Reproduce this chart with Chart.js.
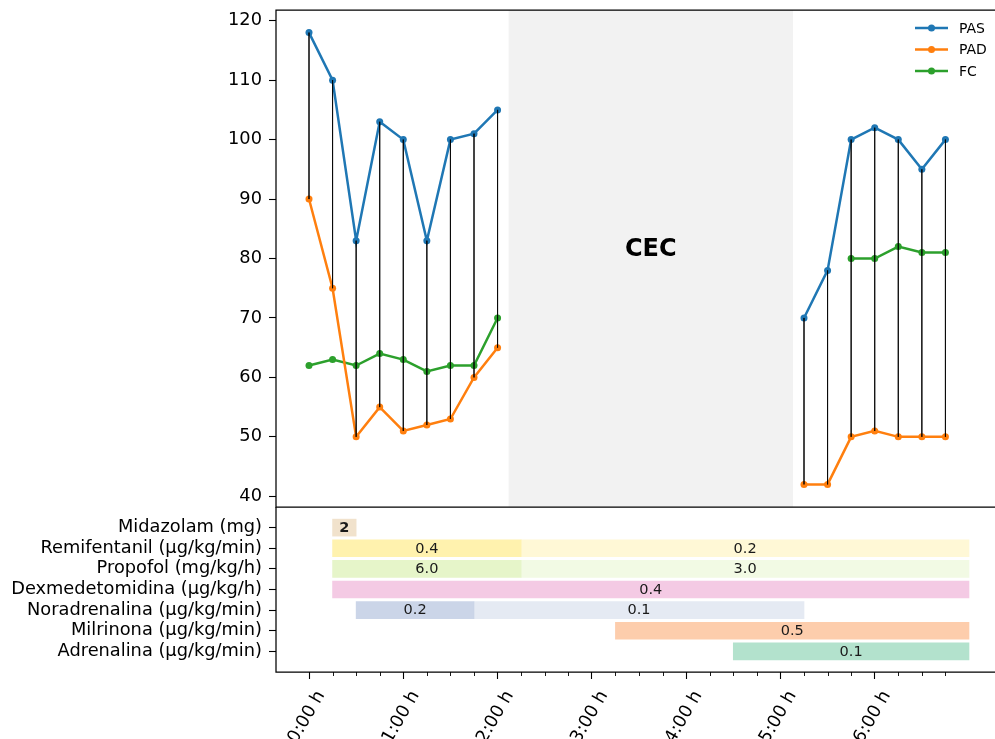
<!DOCTYPE html>
<html>
<head>
<meta charset="utf-8">
<script src="https://cdn.jsdelivr.net/npm/chart.js@4.4.1/dist/chart.umd.min.js"></script>
<style>
  html, body { margin: 0; padding: 0; background: #fff; overflow: hidden; }
  #wrap { position: relative; width: 1002px; height: 739px; }
  #wrap canvas { position: absolute; left: 0; top: 0; }
</style>
</head>
<body>
<div id="wrap">
  <canvas id="vitals" width="1002" height="739"></canvas>
  <canvas id="drugs" width="1002" height="739"></canvas>
</div>
<script>
// time in hours from start
const hours = [0, 0.25, 0.5, 0.75, 1, 1.25, 1.5, 1.75, 2, 5.25, 5.5, 5.75, 6, 6.25, 6.5, 6.75]
const pas = [118, 110, 83, 103, 100, 83, 100, 101, 105, 70, 78, 100, 102, 100, 95, 100]
const pad = [90, 75, 50, 55, 51, 52, 53, 60, 65, 42, 42, 50, 51, 50, 50, 50]
const fc = [62, 63, 62, 64, 63, 61, 62, 62, 70, null, null, 80, 80, 82, 81, 81]
const pressureTicks = [40, 50, 60, 70, 80, 90, 100, 110, 120]
const hourTicks = [0, 1, 2, 3, 4, 5, 6]

// bypass (CEC) window
const cecStart = 2.117
const cecEnd = 5.133
const cecLabel = 'CEC'

const drugs = [
  'Midazolam (mg)',
  'Remifentanil (µg/kg/min)',
  'Propofol (mg/kg/h)',
  'Dexmedetomidina (µg/kg/h)',
  'Noradrenalina (µg/kg/min)',
  'Milrinona (µg/kg/min)',
  'Adrenalina (µg/kg/min)'
]
const doseRow = [0, 1, 1, 2, 2, 3, 4, 4, 5, 6]
const doseStart = [0.25, 0.25, 2.25, 0.25, 2.25, 0.25, 0.5, 1.75, 3.25, 4.5]
const doseEnd = [0.5, 2.25, 7, 2.25, 7, 7, 1.75, 5.25, 7, 7]
const doseText = ['2', '0.4', '0.2', '6.0', '3.0', '0.4', '0.2', '0.1', '0.5', '0.1']

const drugColors = ['#f1e2cc', '#fff2ae', '#e6f5c9', '#f4cae4', '#cbd5e8', '#fdcdac', '#b3e2cd']
const boldRows = [0]

Chart.defaults.font.family = 'DejaVu Sans'
Chart.defaults.color = '#000'
Chart.defaults.animation = false

const xMin = -0.35
const xMax = 7.35
const axisWidth = 276
const tickFont = { size: 17.8 }

const minorTicks = []
for (let q = 0.25; q < 7; q += 0.25) if (q % 1) minorTicks.push(q)

// keep chart areas exactly where the layout padding puts them
const noPadX = (s) => { s.paddingLeft = 0; s.paddingRight = 0 }
const fixY = (s) => { s.width = axisWidth; s.paddingTop = 0; s.paddingBottom = 0 }

// hide the join across the bypass gap
const skipGap = (ctx) => (ctx.p1.parsed.x - ctx.p0.parsed.x > 1 ? 'transparent' : undefined)

const series = (label, values, color) => ({
  label,
  data: hours.map((h, i) => ({ x: h, y: values[i] })),
  borderColor: color,
  backgroundColor: color,
  borderWidth: 2.5,
  pointRadius: 3.5,
  pointHoverRadius: 3.5,
  pointBorderWidth: 0,
  segment: { borderColor: skipGap },
  order: 1
})

const whiskers = []
hours.forEach((h, i) => {
  if (pas[i] != null && pad[i] != null) {
    whiskers.push({ x: h, y: pas[i] }, { x: h, y: pad[i] }, { x: h, y: null })
  }
})

const cecPlugin = {
  id: 'cec',
  beforeDatasetsDraw(chart) {
    const { ctx, chartArea: ca, scales } = chart
    const x0 = scales.x.getPixelForValue(cecStart)
    const x1 = scales.x.getPixelForValue(cecEnd)
    ctx.save()
    ctx.fillStyle = '#f2f2f2'
    ctx.fillRect(x0, ca.top, x1 - x0, ca.bottom - ca.top)
    ctx.fillStyle = '#000'
    ctx.font = 'bold 24px "DejaVu Sans"'
    ctx.textAlign = 'center'
    ctx.textBaseline = 'middle'
    ctx.fillText(cecLabel, (x0 + x1) / 2, scales.y.getPixelForValue(81.5))
    ctx.restore()
  }
}

const framePlugin = {
  id: 'frame',
  afterDraw(chart, args, opts) {
    const { ctx, chartArea: ca } = chart
    ctx.save()
    ctx.strokeStyle = '#000'
    ctx.lineWidth = 1.25
    ctx.beginPath()
    if (opts.box) {
      ctx.rect(ca.left, ca.top, ca.right - ca.left, ca.bottom - ca.top)
    } else {
      ctx.moveTo(ca.left, ca.top)
      ctx.lineTo(ca.left, ca.bottom)
      ctx.lineTo(ca.right, ca.bottom)
    }
    ctx.stroke()
    ctx.restore()
  }
}

const legendPlugin = {
  id: 'lineLegend',
  afterDraw(chart) {
    const { ctx, chartArea: ca } = chart
    const items = chart.data.datasets.filter(d => d.label)
    ctx.save()
    ctx.font = '14px "DejaVu Sans"'
    ctx.textBaseline = 'middle'
    items.forEach((d, i) => {
      const y = ca.top + 18 + i * 21.5
      ctx.strokeStyle = d.borderColor
      ctx.fillStyle = d.borderColor
      ctx.lineWidth = 2.5
      ctx.beginPath()
      ctx.moveTo(ca.right - 87, y)
      ctx.lineTo(ca.right - 54, y)
      ctx.stroke()
      ctx.beginPath()
      ctx.arc(ca.right - 70.5, y, 3.5, 0, Math.PI * 2)
      ctx.fill()
      ctx.fillStyle = '#000'
      ctx.fillText(d.label, ca.right - 43, y + 1)
    })
    ctx.restore()
  }
}

const vitalsChart = new Chart(document.getElementById('vitals'), {
  type: 'line',
  data: {
    datasets: [
      series('PAS', pas, '#1f77b4'),
      series('PAD', pad, '#ff7f0e'),
      series('FC', fc, '#2ca02c'),
      {
        data: whiskers,
        borderColor: 'rgba(0,0,0,0.85)',
        borderWidth: 0.85,
        pointRadius: 0,
        spanGaps: false,
        order: 0
      }
    ]
  },
  options: {
    responsive: false,
    events: [],
    layout: { autoPadding: false, padding: { left: 0, top: 10, right: 0, bottom: 232 } },
    plugins: { legend: { display: false }, tooltip: { enabled: false }, frame: { box: true } },
    scales: {
      x: {
        type: 'linear', min: xMin, max: xMax, display: false,
        ticks: { display: false }, afterFit: noPadX
      },
      y: {
        min: 38.2,
        max: 121.8,
        afterBuildTicks: (s) => { s.ticks = pressureTicks.map(v => ({ value: v })) },
        afterFit: fixY,
        grid: { drawOnChartArea: false, tickLength: 7, tickColor: '#000', tickWidth: 1.1 },
        border: { display: false },
        ticks: { font: tickFont, color: '#000', padding: 7 }
      }
    }
  },
  plugins: [cecPlugin, framePlugin, legendPlugin]
})

const barLabelPlugin = {
  id: 'barLabels',
  afterDatasetsDraw(chart) {
    const { ctx } = chart
    const meta = chart.getDatasetMeta(0)
    ctx.save()
    ctx.fillStyle = '#1a1a1a'
    ctx.textAlign = 'center'
    ctx.textBaseline = 'middle'
    meta.data.forEach((bar, i) => {
      const bold = boldRows.includes(doseRow[i])
      ctx.font = (bold ? 'bold ' : '') + '14.5px "DejaVu Sans"'
      ctx.fillText(doseText[i], (bar.x + bar.base) / 2, bar.y + 0.5)
    })
    ctx.restore()
  }
}

const minorTickPlugin = {
  id: 'minorTicks',
  afterDraw(chart) {
    const { ctx, chartArea: ca, scales } = chart
    ctx.save()
    ctx.strokeStyle = '#000'
    ctx.lineWidth = 0.9
    ctx.beginPath()
    minorTicks.forEach(q => {
      const x = Math.round(scales.x.getPixelForValue(q)) + 0.5
      ctx.moveTo(x, ca.bottom)
      ctx.lineTo(x, ca.bottom + 4)
    })
    ctx.stroke()
    ctx.restore()
  }
}

const drugsChart = new Chart(document.getElementById('drugs'), {
  type: 'bar',
  data: {
    datasets: [{
      data: doseRow.map((r, i) => ({ x: [doseStart[i], doseEnd[i]], y: r })),
      backgroundColor: (ctx) => {
        const row = doseRow[ctx.dataIndex]
        const first = doseRow.indexOf(row) === ctx.dataIndex
        return first ? drugColors[row] : drugColors[row] + '80'
      },
      borderWidth: 0,
      barThickness: 17
    }]
  },
  options: {
    responsive: false,
    events: [],
    indexAxis: 'y',
    layout: { autoPadding: false, padding: { left: 0, top: 507, right: 0, bottom: 0 } },
    plugins: { legend: { display: false }, tooltip: { enabled: false }, frame: { box: false } },
    scales: {
      x: {
        type: 'linear',
        min: xMin,
        max: xMax,
        afterBuildTicks: (s) => { s.ticks = hourTicks.map(v => ({ value: v })) },
        afterFit: (s) => { s.height = 67; noPadX(s) },
        grid: { drawOnChartArea: false, tickLength: 7, tickColor: '#000', tickWidth: 1.1 },
        border: { display: false },
        ticks: {
          callback: (v) => `${v}:00 h`,
          minRotation: 60,
          maxRotation: 60,
          autoSkip: false,
          labelOffset: 12,
          padding: 8,
          font: tickFont,
          color: '#000'
        }
      },
      y: {
        type: 'linear',
        min: -1,
        max: 7,
        reverse: true,
        offset: false,
        afterBuildTicks: (s) => { s.ticks = drugs.map((d, i) => ({ value: i })) },
        afterFit: fixY,
        grid: { drawOnChartArea: false, offset: false, tickLength: 7, tickColor: '#000', tickWidth: 1.1 },
        border: { display: false },
        ticks: { callback: (v) => drugs[v], autoSkip: false, font: tickFont, color: '#000', padding: 7 }
      }
    }
  },
  plugins: [framePlugin, barLabelPlugin, minorTickPlugin]
})
</script>
</body>
</html>
